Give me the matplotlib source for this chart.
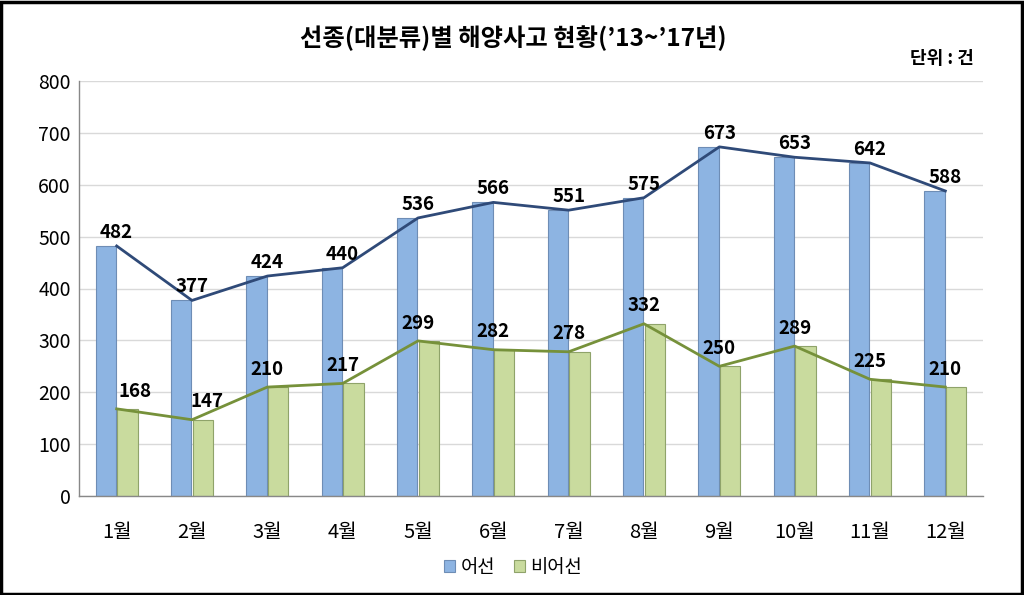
import matplotlib
matplotlib.use("Agg")
import matplotlib.pyplot as plt
import numpy as np

plt.rcParams['font.family'] = ['Noto Sans CJK KR', 'DejaVu Sans']

months = ['1월', '2월', '3월', '4월', '5월', '6월', '7월', '8월', '9월', '10월', '11월', '12월']
fishing = [482, 377, 424, 440, 536, 566, 551, 575, 673, 653, 642, 588]
nonfishing = [168, 147, 210, 217, 299, 282, 278, 332, 250, 289, 225, 210]
title = "선종(대분류)별 해양사고 현황(’13~’17년)"
unit = "단위 : 건"

fig = plt.figure(figsize=(10.24, 5.95), dpi=100)
ax = fig.add_axes([79/1024, 1-496/595, (983-79)/1024, (496-81)/595])

x = np.arange(len(months))
w = 0.27
blue_bar = '#8DB4E2'
green_bar = '#C9DB9E'
blue_line = '#2F4A78'
green_line = '#76913A'

ax.bar(x - w/2 - 0.01, fishing, width=w, color=blue_bar, edgecolor='#6E8DB5', linewidth=0.8, zorder=2, label='어선')
ax.bar(x + w/2 + 0.01, nonfishing, width=w, color=green_bar, edgecolor='#8FA36A', linewidth=0.8, zorder=2, label='비어선')
ax.plot(x, fishing, color=blue_line, linewidth=2, zorder=3)
ax.plot(x, nonfishing, color=green_line, linewidth=2, zorder=3)

for i, v in enumerate(fishing):
    ax.annotate(str(v), (x[i], v), xytext=(0, 3), textcoords='offset points',
                ha='center', va='bottom', fontsize=13.5, fontweight='bold', zorder=4)
green_dx = {0: 13, 1: 11}
for i, v in enumerate(nonfishing):
    ax.annotate(str(v), (x[i], v), xytext=(green_dx.get(i, 0), 6), textcoords='offset points',
                ha='center', va='bottom', fontsize=13.5, fontweight='bold', zorder=4)

ax.set_xlim(-0.5, len(months) - 0.5)
ax.set_ylim(0, 800)
ax.set_yticks(range(0, 801, 100))
ax.set_xticks(x)
ax.set_xticklabels(months)
ax.tick_params(axis='both', length=0, labelsize=14)
ax.tick_params(axis='x', labelsize=14.5, pad=19)
ax.tick_params(axis='y', pad=6)
ax.grid(axis='y', color='#D9D9D9', linewidth=1, zorder=0)
ax.set_axisbelow(True)
for s in ['top', 'right']:
    ax.spines[s].set_visible(False)
for s in ['left', 'bottom']:
    ax.spines[s].set_color('#888888')
    ax.spines[s].set_linewidth(1)

fig.text(513/1024, 1-38/595, title, ha='center', va='center', fontsize=17.5, fontweight='bold')
fig.text(942/1024, 1-58/595, unit, ha='center', va='center', fontsize=13, fontweight='bold')

fig.legend(loc='center', bbox_to_anchor=(513/1024, 1-567/595), ncol=2, frameon=False,
           fontsize=13.5, handlelength=0.6, handleheight=0.6, handletextpad=0.3, columnspacing=1.0)

fig.patches.append(plt.Rectangle((0.001, 0.002), 0.997, 0.995, transform=fig.transFigure,
                                 fill=False, edgecolor='black', linewidth=2.5))

fig.savefig('out.png', dpi=100)
